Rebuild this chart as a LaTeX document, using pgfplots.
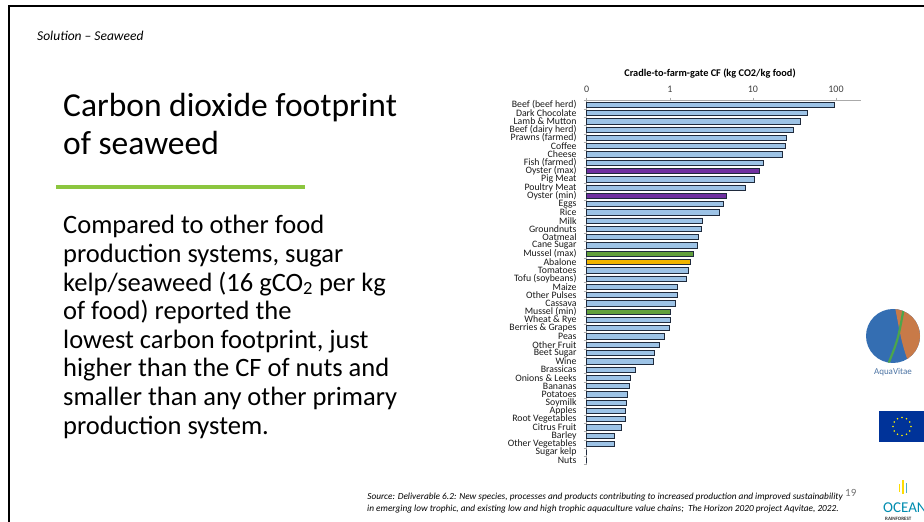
\documentclass[border=0pt]{standalone}
\usepackage{fontspec}
\setmainfont{Carlito}
\usepackage{pgfplots}
\pgfplotsset{compat=1.18}
\usetikzlibrary{calc}
\definecolor{barblue}{RGB}{157,195,230}
\definecolor{baredge}{RGB}{31,42,60}
\definecolor{barpurple}{RGB}{112,48,160}
\definecolor{bargreen}{RGB}{98,160,60}
\definecolor{baryellow}{RGB}{240,180,0}
\definecolor{slidegreen}{RGB}{140,198,63}
\definecolor{axgray}{RGB}{170,170,170}
\definecolor{eublue}{RGB}{0,51,153}
\definecolor{avblue}{RGB}{52,110,178}
\definecolor{avorange}{RGB}{200,122,72}
\definecolor{oceanteal}{RGB}{0,140,175}
\begin{document}
\begin{tikzpicture}
\clip (0pt,0pt) rectangle (924pt,522pt);
\path[use as bounding box] (0pt,0pt) rectangle (924pt,522pt);
% slide frame
\draw[black, line width=2.6pt] (9pt,-5pt) -- (9pt,516pt) -- (930pt,516pt);
% header and title
\node[anchor=base west, inner sep=0pt, font=\fontsize{13.5}{15}\selectfont\itshape] at (37pt,481pt) {Solution – Seaweed};
\node[anchor=base west, inner sep=0pt, font=\fontsize{33.5}{38}\selectfont] at (63pt,405pt) {Carbon dioxide footprint};
\node[anchor=base west, inner sep=0pt, font=\fontsize{33.5}{38}\selectfont] at (63pt,367pt) {of seaweed};
\draw[slidegreen, line width=4pt] (56pt,335pt) -- (305pt,335pt);
% body text
\begin{scope}[every node/.style={anchor=base west, inner sep=0pt, font=\fontsize{26.5}{28.6}\selectfont}]
\node at (63pt,288pt) {Compared to other food};
\node at (63pt,259.4pt) {production systems, sugar};
\node at (63pt,230.8pt) {kelp/seaweed (16 gCO\textsubscript{2} per kg};
\node at (63pt,202.2pt) {of food) reported the};
\node at (63pt,173.6pt) {lowest carbon footprint, just};
\node at (63pt,145pt) {higher than the CF of nuts and};
\node at (63pt,116.4pt) {smaller than any other primary};
\node at (63pt,87.8pt) {production system.};
\end{scope}
% chart title
\node[anchor=center, inner sep=0pt, font=\fontsize{10.3}{12}\selectfont\bfseries] at (710pt,448pt) {Cradle-to-farm-gate CF (kg CO2/kg food)};
\begin{axis}[
  at={(586.7pt,421.3pt)}, anchor=north west,
  scale only axis, width=274.3pt, height=364pt,
  xmode=log, xmin=0.1, xmax=200, log origin=infty,
  ymin=0.5, ymax=44.5,
  xbar, bar width=5.3pt,
  axis x line*=top, axis y line*=left,
  axis line style={axgray, line width=0.6pt},
  xtick={0.1,1,10,100}, xticklabels={0,1,10,100},
  xminorticks=false,
  tick align=outside,
  major tick length=3pt, minor tick length=3pt,
  major x tick style={axgray, line width=0.6pt},
  x tick label style={font=\fontsize{10}{11}\selectfont, text=black!75, yshift=2pt},
  ytick={1,...,44},
  yticklabels={Nuts, Sugar kelp, Other Vegetables, Barley, Citrus Fruit, Root Vegetables, Apples, Soymilk, Potatoes, Bananas, Onions \& Leeks, Brassicas, Wine, Beet Sugar, Other Fruit, Peas, Berries \& Grapes, Wheat \& Rye, Mussel (min), Cassava, Other Pulses, Maize, Tofu (soybeans), Tomatoes, Abalone, Mussel (max), Cane Sugar, Oatmeal, Groundnuts, Milk, Rice, Eggs, Oyster (min), Poultry Meat, Pig Meat, Oyster (max), Fish (farmed), Cheese, Coffee, Prawns (farmed), Beef (dairy herd), Lamb \& Mutton, Dark Chocolate, Beef (beef herd)},
  y tick label style={font=\fontsize{9.8}{8}\selectfont, anchor=east, inner sep=0pt, xshift=-7pt, text=black!90},
  major y tick style={draw=none},
  minor ytick={0.5,1.5,...,44.5},
  minor y tick style={axgray, line width=0.5pt},
  clip=false,
]
\addplot[fill=barblue, draw=baredge, line width=0.8pt, bar shift=0pt] coordinates {
(95,44) (45,43) (37,42) (30.5,41) (25.5,40) (24.5,39) (22.5,38) (13.2,37)
(10.4,35) (8.1,34) (4.4,32) (4.0,31) (2.5,30) (2.42,29) (2.2,28) (2.13,27)
(1.66,24) (1.60,23) (1.24,22) (1.24,21) (1.18,20)
(1.01,18) (0.98,17) (0.86,16) (0.755,15) (0.645,14) (0.64,13) (0.385,12)
(0.332,11) (0.326,10) (0.308,9) (0.297,8) (0.289,7) (0.29,6) (0.264,5)
(0.215,4) (0.213,3) (0.1,2) (0.1,1)
};
\addplot[fill=barpurple, draw=baredge, line width=0.8pt, bar shift=0pt] coordinates {
(11.9,36) (4.85,33)
};
\addplot[fill=bargreen, draw=baredge, line width=0.8pt, bar shift=0pt] coordinates {
(1.94,26) (1.03,19)
};
\addplot[fill=baryellow, draw=baredge, line width=0.8pt, bar shift=0pt] coordinates {
(1.75,25)
};
\end{axis}
% source
\node[anchor=base, inner sep=0pt, font=\fontsize{9.3}{11}\selectfont\itshape] at (605pt,22pt) {Source: Deliverable 6.2: New species, processes and products contributing to increased production and improved sustainability};
\node[anchor=base, inner sep=0pt, font=\fontsize{9.3}{11}\selectfont\itshape] at (603pt,10pt) {in emerging low trophic, and existing low and high trophic aquaculture value chains;\ \ The Horizon 2020 project Aqvitae, 2022.};
\node[anchor=base west, inner sep=0pt, font=\fontsize{11}{12}\selectfont, text=black!55] at (845pt,25pt) {19};
% logos (approximate)
\fill[avblue] (893pt,186pt) circle (27pt);
\begin{scope}
\clip (893pt,186pt) circle (27pt);
\fill[avorange] (895pt,215pt) -- (925pt,215pt) -- (925pt,155pt) -- (910pt,155pt) .. controls (902pt,178pt) .. (895pt,215pt);
\draw[green!50!black!70, line width=2.2pt] (887pt,155pt) .. controls (898pt,182pt) .. (904pt,215pt);
\end{scope}
\node[anchor=center, inner sep=0pt, font=\fontsize{9}{10}\selectfont, text=avblue!70!gray] at (893pt,150pt) {AquaVitae};
\fill[eublue] (879pt,80pt) rectangle (930pt,111pt);
\foreach \a in {0,30,...,330} {\fill[yellow] ($(902pt,95.5pt)+(\a:9pt)$) circle (0.9pt);}
\fill[yellow!80!orange] (902pt,28pt) rectangle (904pt,42pt);
\fill[oceanteal!70] (905.5pt,29pt) rectangle (907pt,39pt);
\fill[yellow!80!orange] (898.5pt,30pt) rectangle (900pt,38pt);
\node[anchor=west, inner sep=0pt, font=\fontsize{15}{16}\selectfont, text=oceanteal] at (883pt,14pt) {OCEAN};
\node[anchor=west, inner sep=0pt, font=\fontsize{5}{6}\selectfont\bfseries, text=black!80] at (885pt,3pt) {RAINFOREST};
\end{tikzpicture}
\end{document}
